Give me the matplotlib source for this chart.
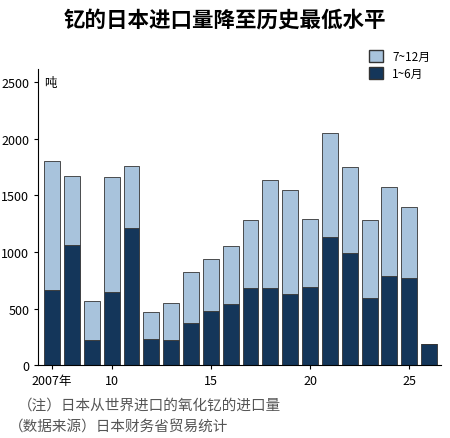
import matplotlib
matplotlib.use("Agg")
import matplotlib.pyplot as plt
from matplotlib.patches import Patch

plt.rcParams['font.family'] = ['Noto Sans CJK SC', 'DejaVu Sans']

years = list(range(2007, 2027))
total = [1800, 1670, 570, 1660, 1760, 470, 550, 820, 940, 1050, 1280, 1640, 1550, 1290, 2050, 1750, 1280, 1570, 1400, None]
h1 = [660, 1060, 220, 650, 1210, 230, 220, 370, 480, 540, 680, 680, 630, 690, 1130, 990, 590, 790, 770, 190]
tick_years = [2007, 2010, 2015, 2020, 2025]
tick_labels = ['2007年', '10', '15', '20', '25']

dark = '#14365a'
light = '#a8c3dc'

fig = plt.figure(figsize=(4.5, 4.39), dpi=100)
ax = fig.add_axes([0.085, 0.166, 0.895, 0.674])
h2 = [(t - a) if t is not None else 0 for t, a in zip(total, h1)]
ax.bar(years, h1, width=0.8, color=dark, edgecolor='#333333', linewidth=0.6)
ax.bar(years, h2, bottom=h1, width=0.8, color=light, edgecolor='#333333', linewidth=0.6)
ax.set_ylim(0, 2615)
ax.set_xlim(2006.3, 2026.6)
ax.set_yticks([0, 500, 1000, 1500, 2000, 2500])
ax.set_xticks(tick_years)
ax.set_xticklabels(tick_labels)
ax.tick_params(labelsize=9, length=3)
for s in ['top', 'right']:
    ax.spines[s].set_visible(False)
ax.text(2006.6, 2500, '吨', fontsize=9, va='center')
ax.legend(handles=[Patch(facecolor=light, edgecolor='#333333'), Patch(facecolor=dark, edgecolor='#333333')],
          labels=['7~12月', '1~6月'], loc='upper right', bbox_to_anchor=(1.0, 1.1),
          frameon=False, fontsize=8.5, handlelength=1.2, handleheight=1.2, labelspacing=0.3)
fig.text(0.5, 0.955, '钇的日本进口量降至历史最低水平', ha='center', va='center', fontsize=15.5, fontweight='bold')
fig.text(0.04, 0.075, '（注）日本从世界进口的氧化钇的进口量', fontsize=10.5, color='#555555', va='center')
fig.text(0.02, 0.025, '（数据来源）日本财务省贸易统计', fontsize=10.5, color='#555555', va='center')
fig.savefig('out.png', dpi=100)
